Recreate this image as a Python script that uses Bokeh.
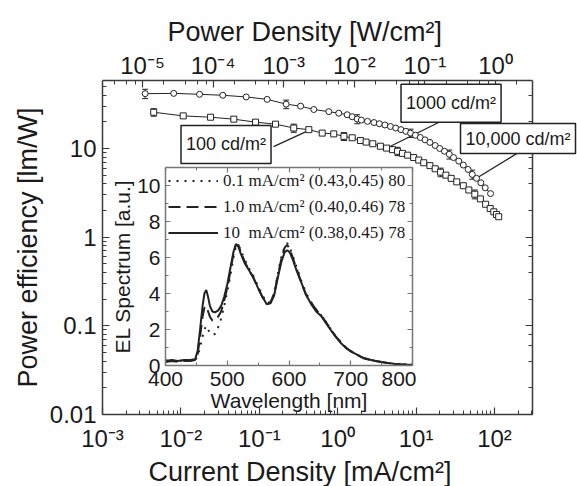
from bokeh.plotting import figure
from bokeh.models import (Range1d, LogAxis, LinearAxis, LogScale, CustomJSTickFormatter, Label,
                          Whisker, ColumnDataSource, Legend, LegendItem, FixedTicker, TeeHead, Title)
from bokeh.embed import file_html
from bokeh.resources import INLINE

# ---------------- main plot data ----------------
# circles (upper curve): current density [mA/cm2], power efficiency [lm/W]
circ_j = [0.0035, 0.0081, 0.0173, 0.0342, 0.068, 0.126, 0.22, 0.336, 0.495, 0.77, 1.03, 1.32,
          1.53, 1.77, 2.0, 2.4, 2.9, 3.4, 4.0, 4.7, 5.5, 6.4, 7.4, 8.5, 9.8, 11.3, 13, 15, 17.5,
          20, 23, 26.5, 30, 35, 40, 46, 52, 59, 67, 76, 89]
circ_pe = [41.5, 41.8, 40.8, 39.8, 38.1, 35.8, 31.6, 30.0, 27.5, 26.0, 25.0, 24.0,
           22.8, 21.5, 20.9, 20.2, 19.6, 19.0, 18.4, 17.7, 17.0, 16.3, 15.6, 14.9, 14.1, 13.3, 12.5, 11.7, 10.8,
           10.0, 9.3, 8.6, 7.9, 7.2, 6.5, 5.8, 5.1, 4.6, 4.1, 3.6, 3.1]
# squares (lower curve)
sq_j = [0.0045, 0.0107, 0.0239, 0.0473, 0.0895, 0.161, 0.275, 0.428, 0.634, 0.89, 1.2, 1.53,
        1.95, 2.3, 2.8, 3.5, 4.2, 5.0, 5.8, 6.7, 7.8, 9.3, 10.8, 12.5, 15, 17.5, 20.5, 24, 28,
        33, 40, 47, 56, 66, 77, 88, 98, 106, 113]
sq_pe = [25.6, 23.3, 22.5, 21.4, 19.8, 18.8, 17.0, 16.3, 14.9, 14.6, 13.7, 13.2,
         12.3, 11.8, 11.3, 10.6, 10.1, 9.7, 9.3, 8.8, 8.4, 7.9, 7.4, 6.9, 6.4, 5.9, 5.4, 5.0, 4.6,
         4.2, 3.8, 3.4, 3.05, 2.7, 2.35, 2.1, 1.93, 1.8, 1.7]
# error bars (index into series, half-height in lm/W)
circ_err_idx = [0, 6, 13, 23, 31, 36]
circ_err = [5.0, 3.5, 2.5, 1.6, 1.0, 0.6]
sq_err_idx = [0, 6, 10, 18, 26, 32]
sq_err = [2.5, 1.8, 1.4, 1.0, 0.6, 0.35]

# annotation boxes: text, centre J, centre PE (the last one sticks out of the frame)
box_text = ["1000 cd/m\u00b2", "100 cd/m\u00b2", "10,000 cd/m\u00b2"]
box_j = [27.9, 0.0376]
box_pe = [32.4, 11.1]
# leader lines
lead_j0 = [24.9, 0.152, 215]
lead_pe0 = [21.9, 10.5, 9.33]
lead_j1 = [4.71, 0.45, 62.5]
lead_pe1 = [10.6, 16.3, 4.76]

# ---------------- inset data (EL spectrum) ----------------
wl = [400, 410, 420, 430, 440, 448, 452, 456, 460, 463, 466, 469, 472, 476, 480, 485, 490, 495,
      500, 505, 510, 514, 518, 522, 528, 535, 542, 550, 557, 564, 570, 576, 582, 588, 593, 597,
      601, 606, 612, 620, 628, 636, 644, 652, 660, 668, 676, 684, 692, 700, 710, 720, 730, 740,
      750, 760, 770, 780, 790, 800]
el_10 = [0.25, 0.3, 0.25, 0.3, 0.3, 0.35, 0.8, 2.0, 3.3, 4.0, 4.2, 3.8, 3.3, 3.0, 2.95, 3.05, 3.3, 3.8,
         4.5, 5.4, 6.3, 6.75, 6.6, 6.2, 5.7, 5.3, 4.9, 4.3, 3.8, 3.4, 3.45, 3.9, 4.9, 5.8, 6.3, 6.4,
         6.3, 5.9, 5.3, 4.6, 3.9, 3.4, 3.0, 2.75, 2.35, 1.95, 1.58, 1.25, 0.98, 0.78, 0.6, 0.42, 0.33, 0.25,
         0.19, 0.14, 0.1, 0.07, 0.05, 0.04]
el_1 = [0.2, 0.25, 0.2, 0.25, 0.25, 0.3, 0.6, 1.6, 2.7, 3.2, 3.3, 3.0, 2.7, 2.5, 2.5, 2.7, 3.0, 3.6,
        4.3, 5.2, 6.2, 6.7, 6.7, 6.3, 5.8, 5.3, 4.9, 4.3, 3.8, 3.45, 3.5, 4.0, 5.0, 6.0, 6.55, 6.7,
        6.5, 6.0, 5.4, 4.6, 3.9, 3.5, 3.1, 2.8, 2.4, 2.0, 1.6, 1.3, 1.0, 0.8, 0.6, 0.42, 0.32, 0.25,
        0.19, 0.14, 0.1, 0.07, 0.05, 0.04]
el_01 = [0.3, 0.2, 0.35, 0.2, 0.3, 0.3, 0.5, 1.0, 1.6, 2.0, 2.2, 2.0, 1.8, 1.7, 1.75, 2.1, 2.6, 3.3,
         4.1, 5.0, 6.0, 6.6, 6.7, 6.4, 5.9, 5.4, 5.0, 4.4, 3.9, 3.5, 3.5, 4.0, 5.1, 6.1, 6.6, 6.8,
         6.6, 6.1, 5.5, 4.7, 4.0, 3.5, 3.1, 2.8, 2.4, 2.0, 1.6, 1.3, 1.0, 0.8, 0.6, 0.43, 0.32, 0.25,
         0.19, 0.14, 0.1, 0.07, 0.05, 0.04]
legend_labels = ["0.1 mA/cm\u00b2 (0.43,0.45) 80",
                 "1.0 mA/cm\u00b2 (0.40,0.46) 78",
                 "10\u00a0 mA/cm\u00b2 (0.38,0.45) 78"]
wl_ticks = [400, 500, 600, 700, 800]
wl_minor = [450, 550, 650, 750]
el_ticks = [0, 2, 4, 6, 8, 10]
el_minor = [1, 3, 5, 7, 9, 11]

FONT = "Liberation Sans"
AX = "#3a3a3a"
TXT = "#1a1a1a"
LINE = "#222222"

SUP_CODE = """
const s = {"-":"\u207b","0":"\u2070","1":"\u00b9","2":"\u00b2","3":"\u00b3","4":"\u2074",
           "5":"\u2075","6":"\u2076","7":"\u2077","8":"\u2078","9":"\u2079"};
const e = Math.round(Math.log10(tick));
return "10" + String(e).split("").map(c => s[c]).join("");
"""
DEC_CODE = """
return tick >= 1 ? tick.toFixed(0) : String(parseFloat(tick.toPrecision(1)));
"""
BLANK_CODE = "return '';"


def style_axis(ax, label_size="24px", title_size="27px", color=AX, tin=7, mtin=4):
    ax.major_tick_in = tin
    ax.major_tick_out = 0
    ax.minor_tick_in = mtin
    ax.minor_tick_out = 0
    ax.axis_line_color = color
    ax.axis_line_width = 1.5
    ax.major_tick_line_color = color
    ax.minor_tick_line_color = color
    ax.major_tick_line_width = 1.2
    ax.minor_tick_line_width = 1
    ax.major_label_text_font = FONT
    ax.major_label_text_font_size = label_size
    ax.major_label_text_color = TXT
    ax.axis_label_text_font = FONT
    ax.axis_label_text_font_size = title_size
    ax.axis_label_text_font_style = "normal"
    ax.axis_label_text_color = TXT


def set_standoff(t, v):
    try:
        t.standoff = v
    except Exception:
        pass


# ================= main figure =================
p = figure(width=577, height=486, x_axis_type="log", y_axis_type="log",
           x_range=Range1d(1e-3, 305), y_range=Range1d(0.01, 58.4),
           output_backend="svg", toolbar_location=None,
           min_border_left=102, min_border_right=45, min_border_top=80, min_border_bottom=67,
           outline_line_color=None, background_fill_color="white", border_fill_color="white")
p.xgrid.visible = False
p.ygrid.visible = False

# top title (Power Density)
p.title.text = "Power Density [W/cm\u00b2]"
p.title.align = "left"
p.title.offset = 65
p.title.text_font = FONT
p.title.text_font_size = "27px"
p.title.text_font_style = "normal"
p.title.text_color = TXT
set_standoff(p.title, 4)

xb = p.xaxis[0]
xb.formatter = CustomJSTickFormatter(code=SUP_CODE)
style_axis(xb)
xb.major_label_standoff = 10

bt = Title(text="Current Density [mA/cm\u00b2]", align="left", offset=46,
           text_font=FONT, text_font_size="27px", text_font_style="normal", text_color=TXT)
set_standoff(bt, 0)
p.add_layout(bt, "below")

yl = p.yaxis[0]
yl.axis_label = "Power efficiency [lm/W]"
yl.formatter = CustomJSTickFormatter(code=DEC_CODE)
style_axis(yl)
yl.major_label_standoff = 6
yl.axis_label_standoff = 4

p.extra_x_ranges = {"pd": Range1d(2.71e-6, 3.34)}
p.extra_x_scales = {"pd": LogScale()}
top = LogAxis(x_range_name="pd", formatter=CustomJSTickFormatter(code=SUP_CODE))
style_axis(top)
top.major_label_standoff = 2
p.add_layout(top, "above")

right = LogAxis(formatter=CustomJSTickFormatter(code=BLANK_CODE))
style_axis(right)
p.add_layout(right, "right")

# leader lines
p.segment(x0=lead_j0, y0=lead_pe0, x1=lead_j1, y1=lead_pe1, line_color=LINE, line_width=1.3)

# curves
p.line(circ_j, circ_pe, line_color=LINE, line_width=1)
p.line(sq_j, sq_pe, line_color=LINE, line_width=1)

src_ce = ColumnDataSource(dict(x=[circ_j[i] for i in circ_err_idx],
                               lo=[circ_pe[i] - e for i, e in zip(circ_err_idx, circ_err)],
                               hi=[circ_pe[i] + e for i, e in zip(circ_err_idx, circ_err)]))
src_se = ColumnDataSource(dict(x=[sq_j[i] for i in sq_err_idx],
                               lo=[sq_pe[i] - e for i, e in zip(sq_err_idx, sq_err)],
                               hi=[sq_pe[i] + e for i, e in zip(sq_err_idx, sq_err)]))
for src in (src_ce, src_se):
    p.add_layout(Whisker(source=src, base="x", lower="lo", upper="hi", dimension="height",
                         line_color=LINE, line_width=1,
                         upper_head=TeeHead(size=6, line_color=LINE, line_width=1),
                         lower_head=TeeHead(size=6, line_color=LINE, line_width=1)))

p.scatter(circ_j, circ_pe, marker="circle", size=6, fill_color="white",
          line_color=LINE, line_width=1)
p.scatter(sq_j, sq_pe, marker="square", size=6, fill_color="white",
          line_color=LINE, line_width=1)

for t, bx, by in zip(box_text[:2], box_j, box_pe):
    p.add_layout(Label(x=bx, y=by, text=t, text_align="center", text_baseline="middle",
                       text_font=FONT, text_font_size="18px", text_color=TXT,
                       border_line_color=LINE, border_line_width=1.5,
                       background_fill_color="white", padding=(5, 9)))

# ================= "10,000 cd/m2" box (extends past the frame) =================
bf = figure(width=119, height=34, x_range=Range1d(0, 1), y_range=Range1d(0, 1),
            x_axis_location=None, y_axis_location=None, toolbar_location=None,
            output_backend="svg", min_border=2,
            outline_line_color=LINE, outline_line_width=1.5,
            background_fill_color="white", border_fill_color=None,
            styles={"position": "absolute", "left": "458px", "top": "121px"})
bf.grid.visible = False
bf.add_layout(Label(x=0.5, y=0.5, text=box_text[2], text_align="center", text_baseline="middle",
                    text_font=FONT, text_font_size="18px", text_color=TXT))

# ================= inset =================
ins = figure(width=308, height=256, x_range=Range1d(400, 800), y_range=Range1d(0, 11),
             output_backend="svg", toolbar_location=None,
             min_border_left=54, min_border_right=4, min_border_top=4, min_border_bottom=54,
             border_fill_color=None, background_fill_color="white", outline_line_color=None,
             styles={"position": "absolute", "left": "108px", "top": "163px"})
ins.xgrid.visible = False
ins.ygrid.visible = False
IAX = "#777777"
for ax in (ins.xaxis[0], ins.yaxis[0]):
    style_axis(ax, label_size="21px", title_size="21px", color=IAX, tin=5, mtin=3)
ins.xaxis[0].ticker = FixedTicker(ticks=wl_ticks, minor_ticks=wl_minor)
ins.yaxis[0].ticker = FixedTicker(ticks=el_ticks, minor_ticks=el_minor)
ins.xaxis[0].axis_label = "Wavelength [nm]"
ins.yaxis[0].axis_label = "EL Spectrum [a.u.]"
ins.xaxis[0].major_label_standoff = 6
ins.xaxis[0].axis_label_standoff = 0
ins.yaxis[0].major_label_standoff = 5
ins.yaxis[0].axis_label_standoff = 0
for loc, ticks, minor in (("above", wl_ticks, wl_minor), ("right", el_ticks, el_minor)):
    ax = LinearAxis(ticker=FixedTicker(ticks=ticks, minor_ticks=minor),
                    formatter=CustomJSTickFormatter(code=BLANK_CODE))
    style_axis(ax, label_size="1px", color=IAX, tin=5, mtin=3)
    ax.major_label_standoff = 0
    ins.add_layout(ax, loc)

r_dot = ins.line(wl, el_01, line_color=LINE, line_width=2, line_dash="2 6")
r_dash = ins.line(wl, el_1, line_color=LINE, line_width=2, line_dash="12 6")
r_sol = ins.line(wl, el_10, line_color=LINE, line_width=2)

leg = Legend(items=[LegendItem(label=legend_labels[0], renderers=[r_dot]),
                    LegendItem(label=legend_labels[1], renderers=[r_dash]),
                    LegendItem(label=legend_labels[2], renderers=[r_sol])],
             location="top_left", margin=0, padding=3, spacing=5,
             glyph_width=50, glyph_height=21, label_height=21, label_standoff=5,
             label_text_font="Liberation Serif", label_text_font_size="17px",
             label_text_color=TXT, background_fill_alpha=0, border_line_alpha=0)
ins.add_layout(leg)

open("out.html", "w").write(file_html([p, ins, bf], INLINE))
